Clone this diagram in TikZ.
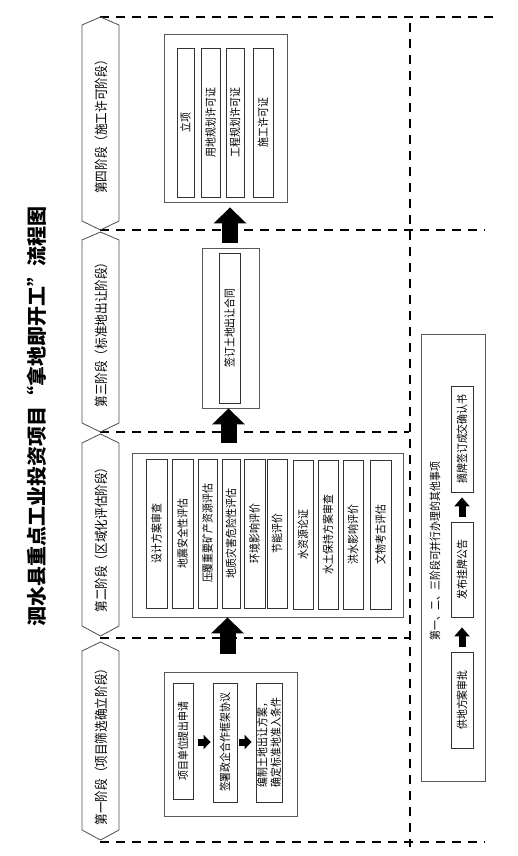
\documentclass[tikz,border=0pt]{standalone}
\usepackage{fontspec}
\setmainfont{Noto Sans CJK SC}[FakeStretch=0.86]
\newfontfamily\titlefont{Noto Sans CJK SC}
\usetikzlibrary{arrows.meta,calc}
\begin{document}
\begin{tikzpicture}[x=1pt,y=-1pt,
  dashline/.style={line width=2pt, dash pattern=on 9pt off 7pt},
  hexa/.style={draw=black!70, line width=0.8pt},
  stagelabel/.style={rotate=90, inner sep=0pt, font=\fontsize{13.5}{15}\selectfont},
  frame/.style={draw=black!65, line width=0.9pt, rotate=90, inner sep=0pt},
  item/.style={draw=black!80, line width=0.8pt, rotate=90, inner sep=0pt, align=center, font=\fontsize{11.5}{13.5}\selectfont},
  plain/.style={rotate=90, inner sep=0pt, font=\fontsize{11.5}{13.5}\selectfont},
  bigarr/.style={line width=16pt, -{Triangle[width=32pt,length=16pt]}},
  smallarr/.style={line width=7pt, -{Triangle[width=14pt,length=7pt]}},
  sidearr/.style={line width=7pt, -{Triangle[width=15pt,length=9pt]}}
]
\useasboundingbox (0,0) rectangle (517,856);

% title
\node[rotate=90, inner sep=0pt, font=\titlefont\bfseries\fontsize{20}{22}\selectfont] (title) at (37,416.5) {泗水县重点工业投资项目“拿地即开工”流程图};

% dashed frame lines
\draw[dashline] (100,17) -- (493,17);
\draw[dashline] (100,230) -- (485,230);
\draw[dashline] (100,432) -- (409,432);
\draw[dashline] (100,638) -- (409,638);
\draw[dashline] (100,842) -- (485,842);
\draw[dashline] (410,23) -- (410,847);

% stage hexagons
\draw[hexa] (82,25) -- (100.5,17) -- (119,25) -- (119,221) -- (100.5,230) -- (82,221) -- cycle;
\draw[hexa] (82,240) -- (100.5,232) -- (119,240) -- (119,423) -- (100.5,432) -- (82,423) -- cycle;
\draw[hexa] (82,443) -- (100.5,434) -- (119,443) -- (119,626) -- (100.5,636) -- (82,626) -- cycle;
\draw[hexa] (82,651) -- (100.5,642) -- (119,651) -- (119,830) -- (100.5,840) -- (82,830) -- cycle;
\node[stagelabel] (h4) at (101,124) {第四阶段（施工许可阶段）};
\node[stagelabel] (h3) at (101,332) {第三阶段（标准地出让阶段）};
\node[stagelabel] (h2) at (101,537) {第二阶段（区域化评估阶段）};
\node[stagelabel] (h1) at (101,744) {第一阶段（项目筛选确立阶段）};

% stage 4
\node[frame, minimum width=168pt, minimum height=123pt] (s4) at (225.5,118) {};
\node[item, minimum width=149pt, minimum height=17pt] (b41) at (185.5,122.5) {立项};
\node[item, minimum width=149pt, minimum height=19pt] (b42) at (210.5,122.5) {用地规划许可证};
\node[item, minimum width=149pt, minimum height=18pt] (b43) at (235,122.5) {工程规划许可证};
\node[item, minimum width=149pt, minimum height=20pt] (b44) at (263,122.5) {施工许可证};

% stage 3
\node[frame, minimum width=160pt, minimum height=57pt] (s3) at (230.5,328) {};
\node[item, minimum width=150pt, minimum height=21pt] (b31) at (229.5,328) {签订土地出让合同};

% stage 2
\node[frame, minimum width=164pt, minimum height=271pt] (s2) at (267.5,535) {};
\node[item, minimum width=149pt, minimum height=21pt] (b21) at (156.5,533.5) {设计方案审查};
\node[item, minimum width=149pt, minimum height=21pt] (b22) at (182.5,533.5) {地震安全性评估};
\node[item, minimum width=149pt, minimum height=19pt] (b23) at (207.5,533.5) {压覆重要矿产资源评估};
\node[item, minimum width=149pt, minimum height=18pt] (b24) at (231,533.5) {地质灾害危险性评估};
\node[item, minimum width=149pt, minimum height=21pt] (b25) at (254.5,533.5) {环境影响评价};
\node[item, minimum width=149pt, minimum height=20pt] (b26) at (277,533.5) {节能评价};
\node[item, minimum width=149pt, minimum height=20pt] (b27) at (303,534.5) {水资源论证};
\node[item, minimum width=149pt, minimum height=20pt] (b28) at (328,534.5) {水土保持方案审查};
\node[item, minimum width=149pt, minimum height=20pt] (b29) at (353,534.5) {洪水影响评价};
\node[item, minimum width=149pt, minimum height=21pt] (b210) at (380.5,534.5) {文物考古评估};

% stage 1
\node[frame, minimum width=144pt, minimum height=133pt] (s1) at (230.5,744) {};
\node[item, minimum width=116pt, minimum height=20pt] (p1) at (183,741) {项目单位提出申请};
\node[item, minimum width=119pt, minimum height=24pt] (p2) at (225,742.5) {签署政企合作框架协议};
\node[item, minimum width=119pt, minimum height=26pt, align=left] (p3) at (269,742.5) {编制土地出让方案，\\确定标准地准入条件};

% right panel
\node[frame, minimum width=447pt, minimum height=64pt] (r) at (453,557.5) {};
\node[plain] (rt) at (435,551) {第一、二、三阶段可并行办理的其他事项};
\node[item, minimum width=96pt, minimum height=22pt] (q1) at (462,700) {供地方案审批};
\node[item, minimum width=95pt, minimum height=22pt] (q2) at (462,569.5) {发布挂牌公告};
\node[item, minimum width=106pt, minimum height=22pt] (q3) at (462,439) {摘牌签订成交确认书};

% big arrows between stages
\draw[bigarr] ($(s1.east)+(-3,-18)$) -- ($(s2.west)+(-40,0)$);
\draw[bigarr] ($(s2.east)+(-39,-10)$) -- ($(s3.west)+(-2,0)$);
\draw[bigarr] ($(s3.east)+(-0.5,-5)$) -- ($(s4.west)+(4.5,5)$);

% small arrows in stage 1
\draw[smallarr] ($(p1.south)+(5,1)$) -- ($(p2.north)+(-2,-0.5)$);
\draw[smallarr] ($(p2.south)+(2,-0.5)$) -- ($(p3.north)+(-4,-0.5)$);

% arrows in right panel
\draw[sidearr] ($(q1.east)+(0,-5)$) -- ($(q2.west)+(0,10)$);
\draw[sidearr] ($(q2.east)+(0,-5)$) -- ($(q3.west)+(0,5)$);
\end{tikzpicture}
\end{document}
